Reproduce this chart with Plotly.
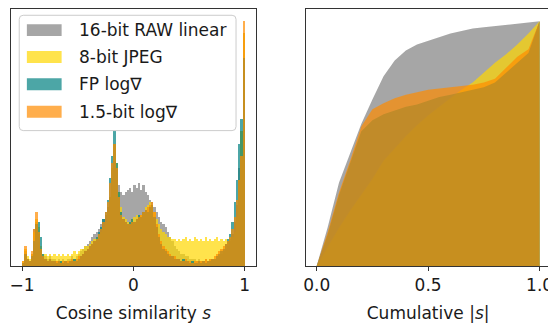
import plotly.graph_objects as go

# ---------------- data ----------------
series_names = ["16-bit RAW linear", "8-bit JPEG", "FP log\u2207", "1.5-bit log\u2207"]
series_colors = ["rgba(128,128,128,0.7)", "rgba(255,215,0,0.7)",
                 "rgba(0,128,128,0.7)", "rgba(255,140,0,0.7)"]

# histogram of cosine similarity s, 100 bins of width 0.02 from -1 to 1 (normalised heights)
bin_start = -1.0
bin_width = 0.02

hist_raw = [
    0.01, 0.06, 0.03, 0.02, 0.05, 0.15, 0.18, 0.13, 0.07, 0.04,
    0.04, 0.03, 0.04, 0.03, 0.03, 0.02, 0.03, 0.02, 0.03, 0.02,
    0.03, 0.03, 0.04, 0.03, 0.04, 0.05, 0.06, 0.07, 0.08, 0.09,
    0.10, 0.12, 0.13, 0.14, 0.15, 0.17, 0.19, 0.21, 0.24, 0.28,
    0.36, 0.43, 0.40, 0.33, 0.30, 0.29, 0.30, 0.31, 0.32, 0.30,
    0.33, 0.32, 0.34, 0.31, 0.33, 0.30, 0.29, 0.27, 0.26, 0.24,
    0.22, 0.20, 0.18, 0.17, 0.16, 0.14, 0.12, 0.10, 0.08, 0.07,
    0.06, 0.05, 0.05, 0.04, 0.04, 0.03, 0.03, 0.03, 0.02, 0.03,
    0.02, 0.02, 0.03, 0.02, 0.03, 0.03, 0.03, 0.04, 0.04, 0.05,
    0.06, 0.07, 0.08, 0.10, 0.13, 0.18, 0.25, 0.40, 0.55, 0.95,
]
hist_jpeg = [
    0.02, 0.07, 0.04, 0.03, 0.05, 0.14, 0.19, 0.16, 0.08, 0.05,
    0.05, 0.04, 0.05, 0.04, 0.05, 0.04, 0.05, 0.04, 0.05, 0.04,
    0.05, 0.04, 0.05, 0.06, 0.05, 0.06, 0.07, 0.07, 0.08, 0.08,
    0.09, 0.10, 0.11, 0.12, 0.13, 0.14, 0.16, 0.18, 0.22, 0.28,
    0.40, 0.50, 0.42, 0.30, 0.24, 0.20, 0.19, 0.18, 0.18, 0.19,
    0.20, 0.21, 0.20, 0.21, 0.22, 0.24, 0.25, 0.26, 0.25, 0.22,
    0.19, 0.17, 0.15, 0.14, 0.13, 0.12, 0.12, 0.11, 0.11, 0.10,
    0.11, 0.10, 0.11, 0.12, 0.10, 0.11, 0.10, 0.12, 0.11, 0.10,
    0.11, 0.10, 0.12, 0.10, 0.11, 0.10, 0.11, 0.12, 0.10, 0.11,
    0.10, 0.11, 0.10, 0.11, 0.12, 0.14, 0.20, 0.35, 0.55, 0.95,
]
hist_fp = [
    0.01, 0.05, 0.03, 0.02, 0.04, 0.10, 0.17, 0.18, 0.12, 0.05,
    0.03, 0.02, 0.03, 0.02, 0.02, 0.01, 0.02, 0.02, 0.01, 0.02,
    0.01, 0.02, 0.02, 0.03, 0.02, 0.03, 0.04, 0.05, 0.06, 0.07,
    0.08, 0.09, 0.10, 0.12, 0.14, 0.16, 0.19, 0.22, 0.27, 0.36,
    0.45, 0.55, 0.42, 0.30, 0.22, 0.19, 0.18, 0.17, 0.18, 0.19,
    0.18, 0.19, 0.21, 0.20, 0.22, 0.23, 0.22, 0.24, 0.25, 0.20,
    0.16, 0.12, 0.09, 0.07, 0.06, 0.05, 0.04, 0.04, 0.03, 0.03,
    0.03, 0.02, 0.03, 0.02, 0.02, 0.01, 0.02, 0.01, 0.01, 0.02,
    0.01, 0.02, 0.01, 0.02, 0.02, 0.03, 0.03, 0.04, 0.05, 0.06,
    0.07, 0.09, 0.11, 0.13, 0.18, 0.26, 0.35, 0.50, 0.60, 0.85,
]
hist_15bit = [
    0.02, 0.08, 0.03, 0.02, 0.06, 0.15, 0.22, 0.14, 0.07, 0.04,
    0.03, 0.02, 0.03, 0.02, 0.02, 0.02, 0.02, 0.01, 0.02, 0.02,
    0.02, 0.02, 0.03, 0.02, 0.03, 0.04, 0.04, 0.05, 0.06, 0.07,
    0.08, 0.09, 0.10, 0.11, 0.13, 0.15, 0.18, 0.22, 0.26, 0.34,
    0.42, 0.50, 0.40, 0.28, 0.21, 0.19, 0.18, 0.17, 0.17, 0.18,
    0.18, 0.19, 0.20, 0.21, 0.22, 0.23, 0.24, 0.25, 0.26, 0.22,
    0.17, 0.13, 0.10, 0.08, 0.07, 0.06, 0.05, 0.04, 0.04, 0.03,
    0.03, 0.02, 0.02, 0.03, 0.02, 0.02, 0.01, 0.02, 0.02, 0.02,
    0.02, 0.02, 0.03, 0.02, 0.03, 0.03, 0.04, 0.05, 0.06, 0.07,
    0.08, 0.09, 0.10, 0.12, 0.15, 0.20, 0.27, 0.35, 0.45, 1.00,
]

# cumulative |s| curves
cum_x = [0.0, 0.05, 0.10, 0.15, 0.20, 0.25, 0.30, 0.35, 0.40, 0.45, 0.50,
         0.55, 0.60, 0.65, 0.70, 0.75, 0.80, 0.85, 0.90, 0.95, 1.0]
cum_raw = [0.0, 0.16, 0.34, 0.46, 0.58, 0.68, 0.775, 0.84, 0.88, 0.905, 0.92,
           0.935, 0.95, 0.96, 0.97, 0.975, 0.98, 0.985, 0.99, 0.995, 1.0]
cum_jpeg = [0.0, 0.08, 0.155, 0.225, 0.29, 0.355, 0.43, 0.48, 0.53, 0.575, 0.615,
            0.65, 0.685, 0.72, 0.75, 0.79, 0.83, 0.865, 0.905, 0.95, 1.0]
cum_fp = [0.0, 0.13, 0.29, 0.42, 0.55, 0.595, 0.62, 0.635, 0.65, 0.66, 0.675,
          0.69, 0.70, 0.71, 0.72, 0.73, 0.75, 0.79, 0.83, 0.87, 1.0]
cum_15bit = [0.0, 0.14, 0.30, 0.43, 0.57, 0.64, 0.665, 0.685, 0.70, 0.71, 0.72,
             0.725, 0.73, 0.735, 0.74, 0.75, 0.765, 0.81, 0.855, 0.885, 1.0]

left_tickvals = [-1, 0, 1]
left_ticktext = ["\u22121", "0", "1"]
right_tickvals = [0.0, 0.5, 1.0]
right_ticktext = ["0.0", "0.5", "1.0"]

# ---------------- figure ----------------
# the page body has an 8px default margin: size the figure to fill the window from there
OFF = 8
W, H = 556 - OFF, 323 - OFF
FONT = "DejaVu Sans"
FS = 17
TXT = "#1a1a1a"

hist_series = [hist_raw, hist_jpeg, hist_fp, hist_15bit]
cum_series = [cum_raw, cum_jpeg, cum_fp, cum_15bit]
centers = [bin_start + bin_width * (i + 0.5) for i in range(len(hist_raw))]

fig = go.Figure()
for name, col, h in zip(series_names, series_colors, hist_series):
    fig.add_trace(go.Bar(x=centers, y=h, width=bin_width, name=name,
                         marker=dict(color=col, line=dict(width=0)),
                         xaxis="x", yaxis="y", showlegend=False))
for name, col, c in zip(series_names, series_colors, cum_series):
    fig.add_trace(go.Scatter(x=cum_x, y=c, mode="lines", name=name,
                             line=dict(width=0, color=col), fill="tozeroy",
                             fillcolor=col, xaxis="x2", yaxis="y2",
                             showlegend=False, hoverinfo="skip"))

def px_x(p):
    return (p - OFF) / W

def px_y(p):
    return 1 - (p - OFF) / H

ydom = [px_y(265.7), px_y(5.7) if px_y(5.7) <= 1 else 1.0]
ydom = [px_y(265.7), min(1.0, px_y(5.7))]
axis_common = dict(showline=True, linecolor="#333333", linewidth=1.2, mirror=True,
                   showgrid=False, zeroline=False,
                   tickfont=dict(family=FONT, size=FS, color=TXT))

fig.update_layout(
    width=W, height=H,
    margin=dict(l=0, r=0, t=0, b=0),
    paper_bgcolor="white", plot_bgcolor="white",
    barmode="overlay", bargap=0,
    font=dict(family=FONT, size=FS, color=TXT),
    xaxis=dict(domain=[max(0.0, px_x(9)), px_x(255.7)], range=[-1.1, 1.1],
               tickvals=left_tickvals, ticktext=left_ticktext,
               ticks="outside", ticklen=4, tickwidth=1, tickcolor="#333333",
               title=dict(text="Cosine similarity <i>s</i>", standoff=12,
                          font=dict(family=FONT, size=FS, color=TXT)),
               anchor="y", **axis_common),
    yaxis=dict(domain=ydom, range=[0, 1.05], showticklabels=False, ticks="",
               anchor="x", **axis_common),
    xaxis2=dict(domain=[px_x(305.7), px_x(552.7)], range=[-0.05, 1.05],
                tickvals=right_tickvals, ticktext=right_ticktext,
                ticks="outside", ticklen=4, tickwidth=1, tickcolor="#333333",
                title=dict(text="Cumulative |<i>s</i>|", standoff=12,
                           font=dict(family=FONT, size=FS, color=TXT)),
                anchor="y2", **axis_common),
    yaxis2=dict(domain=ydom, range=[0, 1.05], showticklabels=False, ticks="",
                anchor="x2", **axis_common),
)

# manual legend (matplotlib style)
x0, x1 = px_x(17.3), px_x(235.7)
y0, y1 = px_y(130), px_y(14.3)
rx, ry = 4 / W, 4 / H
path = (f"M {x0+rx},{y0} L {x1-rx},{y0} Q {x1},{y0} {x1},{y0+ry} "
        f"L {x1},{y1-ry} Q {x1},{y1} {x1-rx},{y1} L {x0+rx},{y1} "
        f"Q {x0},{y1} {x0},{y1-ry} L {x0},{y0+ry} Q {x0},{y0} {x0+rx},{y0} Z")
shapes = [dict(type="path", path=path, xref="paper", yref="paper",
               fillcolor="rgba(255,255,255,0.8)", line=dict(color="#cccccc", width=1),
               layer="above")]
annotations = []
row_centers = [29.2, 56.2, 83.4, 111.0]
for name, col, yc in zip(series_names, series_colors, row_centers):
    shapes.append(dict(type="rect", xref="paper", yref="paper",
                       x0=px_x(25), x1=px_x(60), y0=px_y(yc + 6), y1=px_y(yc - 6),
                       fillcolor=col, line=dict(width=0), layer="above"))
    annotations.append(dict(text=name, xref="paper", yref="paper",
                            x=px_x(75), y=px_y(yc), xanchor="left", yanchor="middle",
                            showarrow=False, font=dict(family=FONT, size=FS, color=TXT)))
fig.update_layout(shapes=shapes, annotations=annotations)

fig.write_html("out.html")
